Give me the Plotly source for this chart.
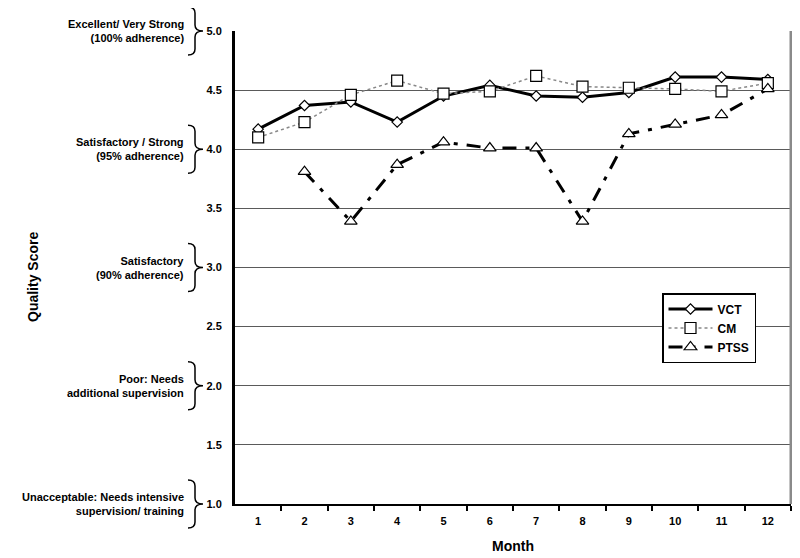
import plotly.graph_objects as go

# данные
months = list(range(1, 13))
vct = [4.17, 4.37, 4.40, 4.23, 4.45, 4.54, 4.45, 4.44, 4.48, 4.61, 4.61, 4.59]
cm = [4.10, 4.23, 4.46, 4.58, 4.47, 4.49, 4.62, 4.53, 4.52, 4.51, 4.49, 4.56]
ptss = [None, 3.81, 3.39, 3.87, 4.06, 4.01, 4.01, 3.39, 4.13, 4.21, 4.29, 4.51]

y_ticks = [1.0, 1.5, 2.0, 2.5, 3.0, 3.5, 4.0, 4.5, 5.0]
band_values = [5.0, 4.0, 3.0, 2.0, 1.0]
band_labels = [
    "Excellent/ Very Strong<br>(100% adherence)",
    "Satisfactory / Strong<br>(95% adherence)",
    "Satisfactory<br>(90% adherence)",
    "Poor: Needs<br>additional supervision",
    "Unacceptable: Needs intensive<br>supervision/ training",
]

# страница имеет отступ 8px (margin у body), поэтому фигура чуть меньше окна
OFF = 8
W, H = 800 - OFF, 558 - OFF
L, T = 235 - OFF, 31 - OFF
R = W - (791 - OFF)
B = H - (504 - OFF)
PW = W - L - R
PH = H - T - B
FONT = "Arial"


def px_x(p):
    # пиксель окна -> координата paper
    return (p - OFF - L) / PW


def px_y(p):
    return (H - B - (p - OFF)) / PH


def brace_path(yc):
    # фигурная скобка "}" в координатах paper
    k = 1.0 / PH
    x0, xm, xt = px_x(188), px_x(195), px_x(203)
    top, bot, r = yc + 24 * k, yc - 24 * k, 6 * k
    return (f"M {x0},{top} Q {xm},{top} {xm},{top - r} L {xm},{yc + r} "
            f"Q {xm},{yc} {xt},{yc} Q {xm},{yc} {xm},{yc - r} "
            f"L {xm},{bot + r} Q {xm},{bot} {x0},{bot}")


fig = go.Figure()
fig.add_trace(go.Scatter(
    x=months, y=vct, name="<b>VCT</b>", mode="lines+markers",
    line=dict(color="black", width=3),
    marker=dict(symbol="diamond", size=8, color="white", line=dict(color="black", width=1.2)),
))
fig.add_trace(go.Scatter(
    x=months, y=cm, name="<b>CM</b>", mode="lines+markers",
    line=dict(color="#888888", width=1.5, dash="dot"),
    marker=dict(symbol="square", size=11, color="white", line=dict(color="black", width=1.2)),
))
fig.add_trace(go.Scatter(
    x=months, y=ptss, name="<b>PTSS</b>", mode="lines+markers",
    line=dict(color="black", width=3, dash="14px,9px,4px,9px"),
    marker=dict(symbol="triangle-up", size=11, color="white", line=dict(color="black", width=1.2)),
    connectgaps=False,
))

shapes = [dict(type="line", xref="paper", yref="paper", x0=1, x1=1, y0=0, y1=1,
               line=dict(color="#8a8a8a", width=3))]
annotations = []
for v, lab in zip(band_values, band_labels):
    yc = (v - 1.0) / 4.0
    shapes.append(dict(type="path", xref="paper", yref="paper", path=brace_path(yc),
                       line=dict(color="black", width=1.5)))
    annotations.append(dict(xref="paper", yref="paper", x=px_x(186), y=yc,
                            xanchor="right", yanchor="middle", align="right",
                            text=f"<b>{lab}</b>", showarrow=False,
                            font=dict(family=FONT, size=11, color="black")))

annotations.append(dict(xref="paper", yref="paper", x=px_x(33), y=px_y(277),
                        xanchor="center", yanchor="middle",
                        text="<b>Quality Score</b>", textangle=-90, showarrow=False,
                        font=dict(family=FONT, size=14, color="black")))
annotations.append(dict(xref="paper", yref="paper", x=0.5, y=px_y(546),
                        xanchor="center", yanchor="middle",
                        text="<b>Month</b>", showarrow=False,
                        font=dict(family=FONT, size=14, color="black")))

fig.update_layout(
    width=W, height=H,
    margin=dict(l=L, r=R, t=T, b=B),
    paper_bgcolor="white", plot_bgcolor="white",
    font=dict(family=FONT, size=11, color="black"),
    shapes=shapes, annotations=annotations,
    legend=dict(
        x=px_x(662), y=px_y(293), xanchor="left", yanchor="top",
        bgcolor="white", bordercolor="black", borderwidth=1.5,
        font=dict(family=FONT, size=12, color="black"),
        tracegroupgap=0, itemwidth=44,
    ),
)
fig.update_xaxes(
    range=[0.5, 12.5], tickvals=months, ticktext=[f"<b>{m}</b>" for m in months],
    ticks="", showgrid=False, zeroline=False,
    showline=True, linecolor="black", linewidth=1.5,
    minor=dict(tickvals=[m + 0.5 for m in months], ticks="outside", ticklen=5,
               tickwidth=2, tickcolor="black", showgrid=False),
    ticklabelstandoff=6,
)
fig.update_yaxes(
    range=[1, 5], tickvals=y_ticks, ticktext=[f"<b>{v:.1f}</b>" for v in y_ticks],
    showgrid=True, gridcolor="#5a5a5a", gridwidth=1, zeroline=False,
    showline=True, linecolor="black", linewidth=3, ticks="", ticklabelstandoff=8,
)

fig.write_html("out.html")
